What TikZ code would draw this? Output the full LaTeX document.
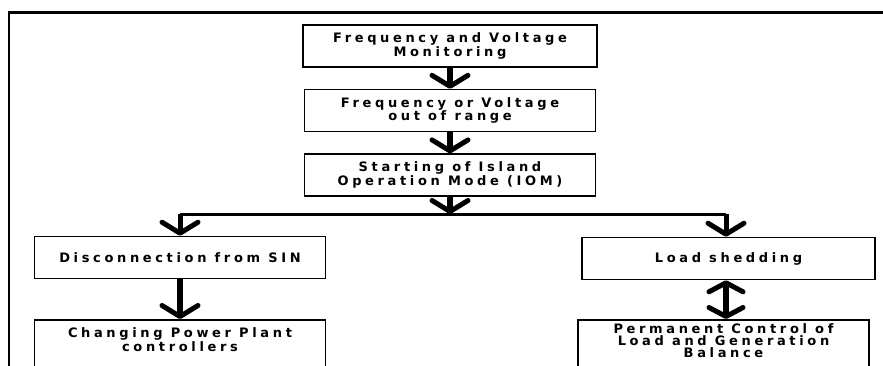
\documentclass[tikz,border=0pt]{standalone}
\usepackage{fontspec}
\newfontfamily\flowfont[LetterSpace=28]{DejaVu Sans}
\usetikzlibrary{positioning,arrows.meta}

\begin{document}
\begin{tikzpicture}[x=1pt,y=-1pt,node distance=21pt,
    box/.style={draw,line width=1.6pt,minimum width=291pt,minimum height=42pt,
      inner sep=3pt,align=center,font=\flowfont\bfseries\fontsize{13}{12}\selectfont},
    flow/.style={line width=6pt,-{Straight Barb[length=11pt,width=36pt,line width=5pt,round]}},
    both/.style={line width=6pt,{Straight Barb[length=9pt,width=34pt,line width=5pt,round]}-{Straight Barb[length=9pt,width=34pt,line width=5pt,round]}},
    bus/.style={line width=3pt}]
    \clip (0,0) rectangle (883,365);
    % outer frame
    \draw[line width=2.5pt] (9,368) -- (9,12.5) -- (886,12.5);

    \node[box,minimum width=294pt] (mon) at (450,46) {Frequency and Voltage\\Monitoring};
    \node[box] (out) [below=of mon] {Frequency or Voltage\\out of range};
    \node[box] (iom) [below=of out] {Starting of Island\\Operation Mode (IOM)};
    \node[box] (dis) at (180,257.5) {Disconnection from SIN};
    \node[box,minimum width=293pt] (shed) at (728.5,258.5) {Load shedding};
    \node[box,anchor=north,text depth=40pt,inner sep=8pt] (chg) at (180,319) {Changing Power Plant\\controllers};
    \node[box,anchor=north,text depth=40pt,inner sep=3.5pt] (perm) at (723.5,319) {Permanent Control of\\Load and Generation\\Balance};

    \coordinate (split) at (iom.south |- 0,214);
    \coordinate (splitl) at (dis.north |- split);
    \coordinate (splitr) at (726,214);

    \draw[flow] (mon) -- (out);
    \draw[flow] (out) -- (iom);
    \draw[flow] (iom) -- (split);
    \draw[bus] (splitl) -- (splitr);
    \draw[flow,line width=5pt] (splitl) -- (dis);
    \draw[flow,line width=5pt] (splitr) -- (splitr |- shed.north);
    \draw[flow] (dis) -- (chg);
    \draw[both] (shed.south -| splitr) -- (splitr |- perm.north);
\end{tikzpicture}
\end{document}
